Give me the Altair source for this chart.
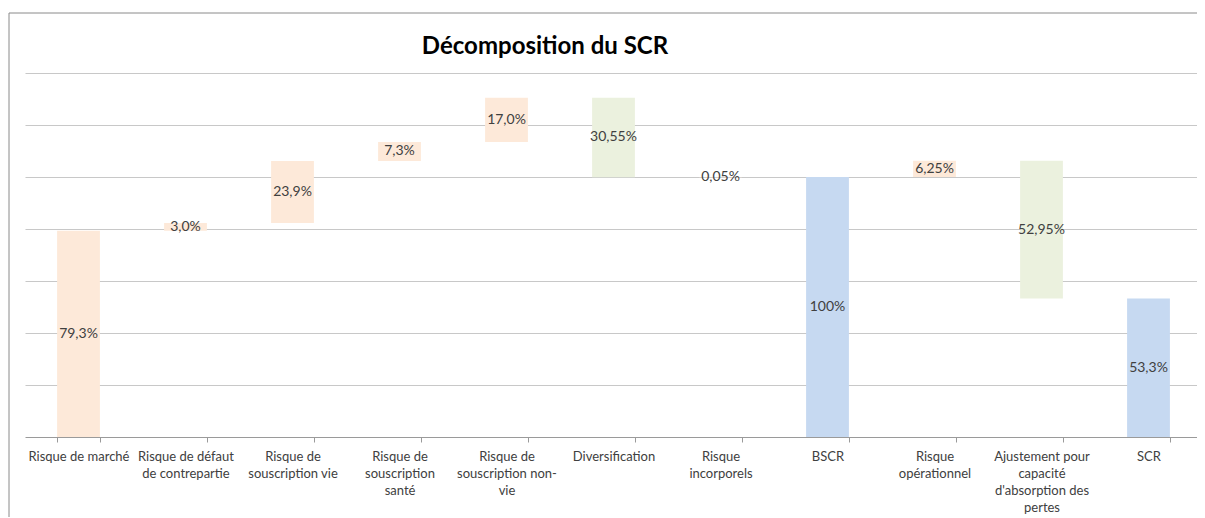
import altair as alt
import pandas as pd

title_text = "Décomposition du SCR"

categories = [
    "Risque de marché",
    "Risque de défaut|de contrepartie",
    "Risque de|souscription vie",
    "Risque de|souscription|santé",
    "Risque de|souscription non-|vie",
    "Diversification",
    "Risque|incorporels",
    "BSCR",
    "Risque|opérationnel",
    "Ajustement pour|capacité|d'absorption des|pertes",
    "SCR",
]
values = [79.3, 3.0, 23.9, 7.3, 17.0, -30.55, 0.05, 100.0, 6.25, -52.95, 53.3]
kinds = ["risk", "risk", "risk", "risk", "risk", "div", "risk", "total", "risk", "div", "total"]
labels = ["79,3%", "3,0%", "23,9%", "7,3%", "17,0%", "30,55%", "0,05%", "100%", "6,25%", "52,95%", "53,3%"]

starts, ends = [], []
level = 0.0
for v, k in zip(values, kinds):
    if k == "total":
        starts.append(0.0)
        ends.append(v)
        level = v
    else:
        starts.append(level)
        level = level + v
        ends.append(level)

df = pd.DataFrame({
    "cat": categories,
    "start": starts,
    "end": ends,
    "kind": kinds,
    "label": labels,
})
df["mid"] = (df["start"] + df["end"]) / 2

FONT = "Lato"
W, H = 1172, 364

xscale = alt.Scale(paddingInner=0.6, paddingOuter=0.3, range=[0, 1177])

xenc = alt.X(
    "cat:N",
    sort=categories,
    title=None,
    scale=xscale,
    axis=alt.Axis(
        labelAngle=0,
        labelExpr="split(datum.label, '|')",
        labelFont=FONT,
        labelFontSize=13,
        labelColor="#404040",
        labelLineHeight=17,
        labelPadding=8,
        labelLimit=200,
        tickBand="extent",
        tickSize=5,
        tickColor="#9a9a9a",
        domainColor="#9a9a9a",
        domainWidth=1,
        grid=False,
    ),
)

yscale = alt.Scale(domain=[0, 140], nice=False, zero=True)

bars = alt.Chart(df).mark_bar().encode(
    x=xenc,
    y=alt.Y(
        "start:Q",
        scale=yscale,
        title=None,
        axis=alt.Axis(
            values=[20, 40, 60, 80, 100, 120, 140],
            grid=True,
            gridColor="#c8c8c8",
            gridWidth=1.2,
            labels=False,
            ticks=False,
            domain=False,
        ),
    ),
    y2="end:Q",
    color=alt.Color(
        "kind:N",
        scale=alt.Scale(domain=["risk", "div", "total"], range=["#FDE9D9", "#EBF1DE", "#C6D9F1"]),
        legend=None,
    ),
)

text = alt.Chart(df).mark_text(font=FONT, fontSize=14, color="#404040").encode(
    x=alt.X("cat:N", sort=categories, scale=xscale),
    y=alt.Y("mid:Q", scale=yscale),
    text="label:N",
)

one = df.head(1)

border = alt.Chart(one).mark_rect(fill=None, stroke="#8a8a8a", strokeWidth=1).encode(
    x=alt.value(-16), x2=alt.value(1200), y=alt.value(-60), y2=alt.value(480)
)

title = alt.Chart(one).mark_text(
    font=FONT, fontSize=24, fontWeight="bold", color="#000000", baseline="middle", align="center"
).encode(
    x=alt.value(520), y=alt.value(-26), text=alt.value(title_text)
)

chart = (
    alt.layer(bars, text, border, title)
    .properties(
        width=W,
        height=H,
        autosize=alt.AutoSizeParams(type="none"),
        padding={"left": 17, "top": 65, "right": 0, "bottom": 80},
    )
    .configure_view(stroke=None)
)

chart.save("out.html", embed_options={"renderer": "svg", "actions": False})
